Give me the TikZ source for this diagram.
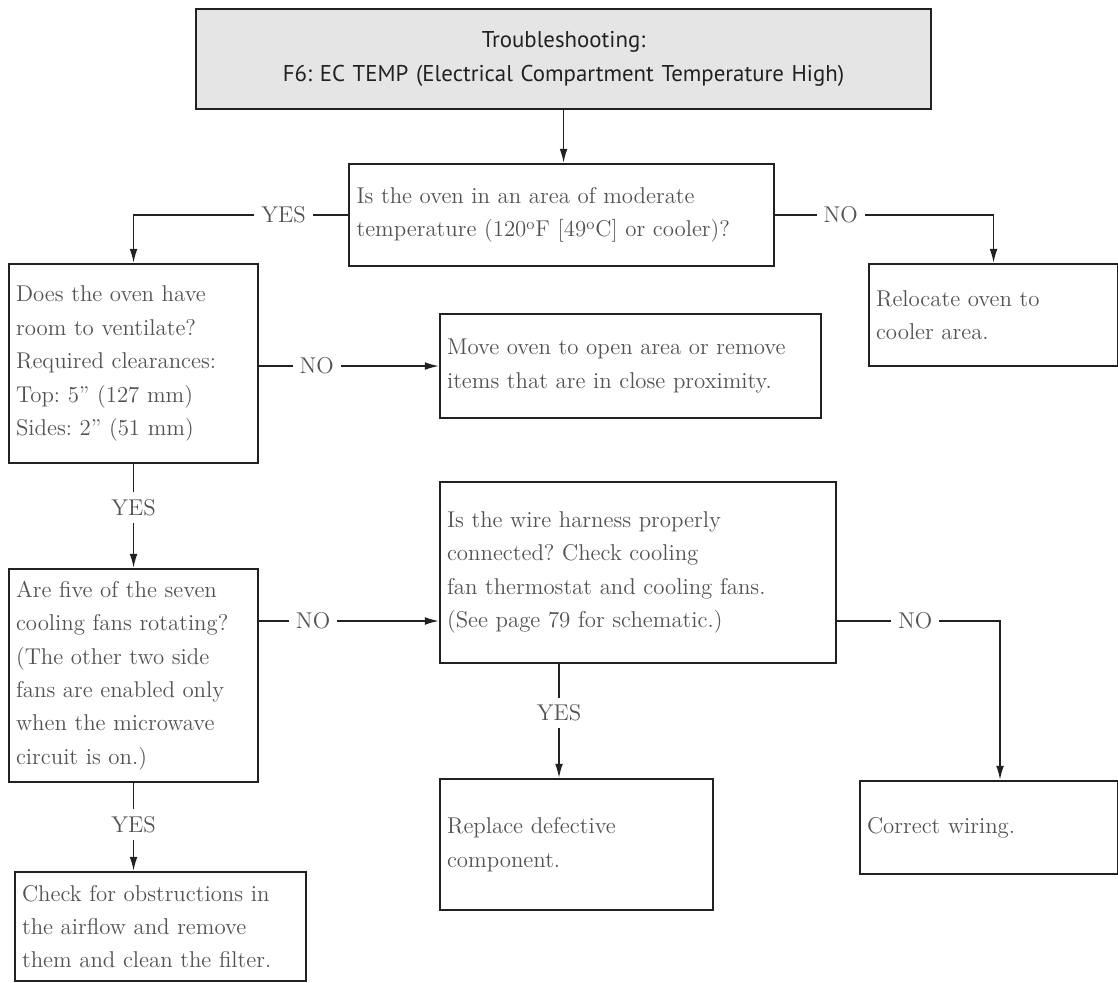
\documentclass[tikz,border=0pt]{standalone}
\usepackage{fontspec}
\newfontfamily\headfont{PT Sans}
\usetikzlibrary{arrows.meta, positioning, calc}
\definecolor{mainBlack}{gray}{0.13}
\definecolor{textGray}{gray}{0.32}
\definecolor{headGray}{gray}{0.9}
\frenchspacing

\begin{document}
\begin{tikzpicture}[x=0.2mm, y=-0.2mm, >={Latex[length=8pt,width=4.4pt]},
    box/.style={draw=mainBlack, line width=1.2pt, anchor=north west, align=left, inner xsep=1.4mm, text=textGray, font=\fontsize{13}{19}\selectfont},
    lbl/.style={fill=white, inner sep=4pt, text=textGray, font=\fontsize{13}{19}\selectfont},
    link/.style={->, line width=0.95pt, mainBlack}]
    \useasboundingbox (0,0) rectangle (1118,983);

    % boxes
    \node[box, fill=headGray, align=center, text=mainBlack, font=\headfont\fontsize{13}{19}\selectfont, minimum width=147mm, minimum height=20mm, text width=142mm] (head) at (195,8) {Troubleshooting:\\F6: EC TEMP (Electrical Compartment Temperature High)};
    \node[box, minimum width=85mm, minimum height=20.4mm, text width=82mm] (qtemp) at (348,163) {Is the oven in an area of moderate\\temperature (120\textsuperscript{o}F [49\textsuperscript{o}C] or cooler)?};
    \node[box, minimum width=49.8mm, minimum height=20.4mm, text width=47mm] (relocate) at (868,263) {Relocate oven to\\cooler area.};
    \node[box, minimum width=49.8mm, minimum height=39.8mm, text width=47mm] (qvent) at (8,263) {Does the oven have\\room to ventilate?\\Required clearances:\\Top: 5” (127 mm)\\Sides: 2” (51 mm)};
    \node[box, minimum width=76.2mm, minimum height=20.8mm, text width=73.4mm] (move) at (439,313) {Move oven to open area or remove\\items that are in close proximity.};
    \node[box, minimum width=49.8mm, minimum height=42.6mm, text width=47mm] (qfans) at (8,568) {Are five of the seven\\cooling fans rotating?\\(The other two side\\fans are enabled only\\when the microwave\\circuit is on.)};
    \node[box, minimum width=79.2mm, minimum height=36.2mm, text width=76.4mm] (qwire) at (439,481) {Is the wire harness properly\\connected? Check cooling\\fan thermostat and cooling fans.\\(See page 79 for schematic.)};
    \node[box, minimum width=58.2mm, minimum height=21.8mm, text width=55.4mm] (check) at (14,871) {Check for obstructions in\\the airflow and remove\\them and clean the filter.};
    \node[box, minimum width=54.6mm, minimum height=26.2mm, text width=51.8mm] (replace) at (439,778) {Replace defective\\component.};
    \node[box, minimum width=51.6mm, minimum height=18.6mm, text width=48.8mm] (rewire) at (859,780) {Correct wiring.};

    % helper lines
    \coordinate (fanrow) at (0,621);
    \coordinate (wirecol) at (1000,0);
    \coordinate (partcol) at (559,0);

    % connectors
    \draw[link] (head.south) -- (head.south |- qtemp.north);
    \draw[link] (qtemp.west) -- node[lbl, pos=0.3] {YES} (qtemp.west -| qvent.north) -- (qvent.north);
    \draw[link] (qtemp.east) -- node[lbl, pos=0.3] {NO} (qtemp.east -| relocate.north) -- (relocate.north);
    \draw[link] (qvent.east |- move.west) -- node[lbl, pos=0.32] {NO} (move.west);
    \draw[link] (qvent.south) -- node[lbl, pos=0.42] {YES} (qvent.south |- qfans.north);
    \draw[link] (qfans.east |- fanrow) -- node[lbl, pos=0.3] {NO} (qwire.west |- fanrow);
    \draw[link] (qwire.east |- fanrow) -- node[lbl, pos=0.48] {NO} (wirecol |- fanrow) -- (wirecol |- rewire.north);
    \draw[link] (partcol |- qwire.south) -- node[lbl, pos=0.43] {YES} (partcol |- replace.north);
    \draw[link] (qfans.south) -- node[lbl, pos=0.47] {YES} (qfans.south |- check.north);
\end{tikzpicture}
\end{document}
